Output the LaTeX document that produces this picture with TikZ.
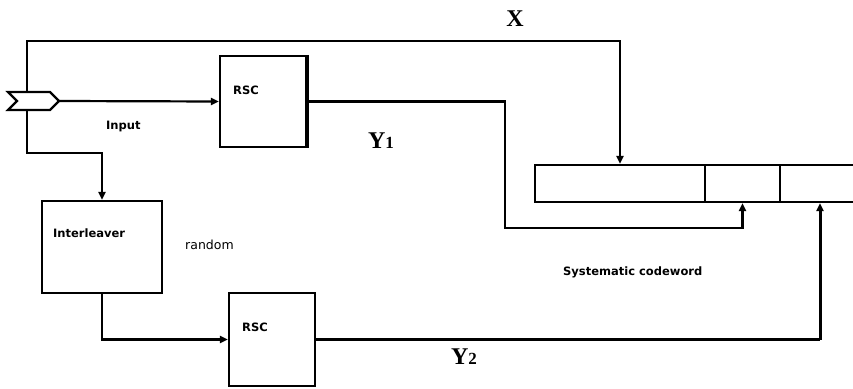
\documentclass[tikz,border=0pt]{standalone}
\usepackage{fontspec}
\setmainfont{Liberation Serif}
\newfontfamily\lblfont{DejaVu Sans}
\usetikzlibrary{arrows.meta}

\begin{document}
\begin{tikzpicture}[x=1pt,y=-1pt,
  wire/.style={line width=2.2pt},
  arr/.style={wire,-{Triangle[length=8pt,width=7pt]}},
  blk/.style={draw,line width=2.2pt,fill=white,inner sep=0pt},
  cell/.style={draw,line width=2.2pt,inner sep=0pt,minimum height=37pt},
  lbl/.style={font=\lblfont\bfseries\fontsize{11.5}{11.5}\selectfont,anchor=west,inner sep=0pt},
  plain/.style={font=\lblfont\fontsize{12.5}{12.5}\selectfont,anchor=west,inner sep=0pt},
  sym/.style={font=\bfseries\fontsize{24}{24}\selectfont,inner sep=0pt}]
\useasboundingbox (0,0) rectangle (853,388);

% blocks
\node[blk,minimum width=86pt,minimum height=91pt] (rsc1) at (263,101.5) {};
\node[blk,minimum width=120pt,minimum height=92pt] (inter) at (102,247) {};
\node[blk,minimum width=86pt,minimum height=93pt] (rsc2) at (272,339.5) {};
\draw[wire] ([xshift=1.2pt]rsc1.north east) -- ([xshift=1.2pt]rsc1.south east);

% codeword register
\node[cell,minimum width=170pt] (cellA) at (620,183.5) {};
\node[cell,minimum width=75pt] (cellB) at (742.5,183.5) {};
\node[cell,minimum width=80pt] (cellC) at (820,183.5) {};

% input port and bends
\coordinate (in) at (27,101);
\coordinate (intip) at (59,101);
\coordinate (topL) at (27,41);
\coordinate (splitL) at (27,153);
\coordinate (y1bend) at (505,228);
\coordinate (y2bend) at (cellC.south |- rsc2.east);

% connectors
\draw[arr] (in) -- (topL) -| (cellA.north);
\draw[arr] (in) -- (splitL) -| (inter.north);
\draw[arr] (intip) -- (rsc1.west);
\draw[arr] (rsc1.east) -| (y1bend) -| (cellB.south);
\draw[arr] (inter.south) |- (rsc2.west);
\draw[wire] (rsc2.east) -- (y2bend);
\draw[arr,line width=3pt] (y2bend) -- (cellC.south);

% input symbol
\draw[wire,fill=white] (8,92) -- (50,92) -- (59,101) -- (50,110) -- (8,110) -- (17,101) -- cycle;

% labels
\node[lbl] (tIn) at (106,127) {Input};
\node[lbl] (t1) at (233,90) {RSC};
\node[lbl] (t2) at (242,327) {RSC};
\node[lbl] (tI) at (53,233) {Interleaver};
\node[plain] (tR) at (185,245) {random};
\node[lbl] (tS) at (563,272) {Systematic codeword};
\node[sym] (tX) at (515,19) {X};
\node[sym] (tY1) at (381,141) {Y{\fontsize{17}{17}\selectfont 1}};
\node[sym] (tY2) at (464,357) {Y{\fontsize{17}{17}\selectfont 2}};
\end{tikzpicture}
\end{document}
